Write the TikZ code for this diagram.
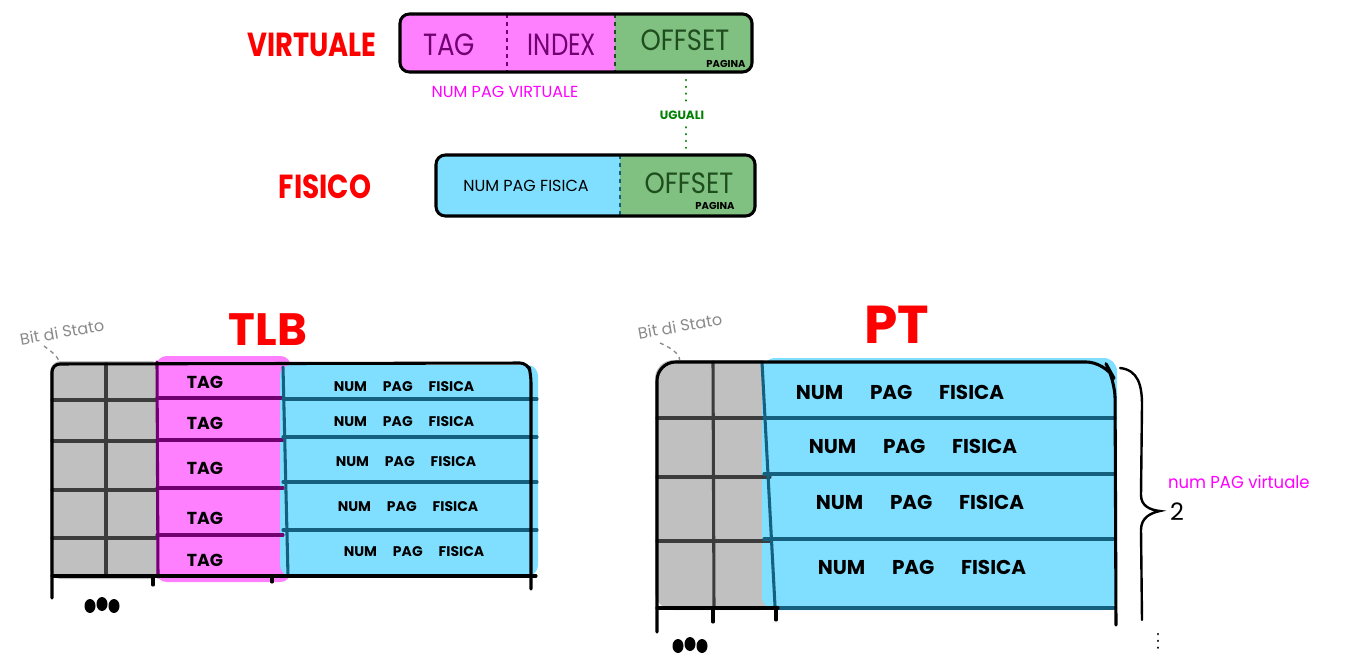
\documentclass[tikz,border=0pt]{standalone}
\usepackage{fontspec}
\setmainfont{Poppins}
\definecolor{pinkf}{HTML}{FF80FF}
\definecolor{greenf}{HTML}{80C080}
\definecolor{bluef}{HTML}{80DFFF}
\definecolor{greyf}{HTML}{C0C0C0}
\definecolor{redt}{HTML}{FF0000}
\definecolor{magt}{HTML}{FF00FF}
\definecolor{greent}{HTML}{008000}
\definecolor{purpleb}{HTML}{700070}
\definecolor{tealb}{HTML}{15607F}
\definecolor{dgreen}{HTML}{1E4D1E}
\definecolor{gridg}{HTML}{3C3C3C}
\definecolor{greytxt}{HTML}{8A8A8A}
\newcommand\fs[1]{\fontsize{#1}{#1}\selectfont}
\begin{document}
\begin{tikzpicture}[x=0.75pt,y=-0.75pt,
  txt/.style={inner sep=0pt, outer sep=0pt},
  cell/.style={inner sep=0pt, outer sep=0pt, minimum width=#1},
  bigred/.style={txt, text=redt, font=\fs{25}\bfseries},
  titlered/.style={txt, text=redt, font=\fs{34}\bfseries},
  blk/.style={line width=2.3pt, line cap=round, line join=round},
  gline/.style={line width=2.3pt, line cap=round},
  hint/.style={txt, text=greytxt, font=\fs{12}, rotate=10},
  dots/.style={line width=1.8pt, dash pattern=on 0.1pt off 5pt, line cap=round},
]
\useasboundingbox (0,0) rectangle (1360,663);

% ================= VIRTUALE =================
\node[bigred, xscale=0.82] (lvirt) at (312,45) {VIRTUALE};
\begin{scope}
  \clip[rounded corners=7pt] (400,14) rectangle (752,72);
  \fill[pinkf] (400,14) rectangle (615,72);
  \fill[greenf] (615,14) rectangle (752,72);
\end{scope}
\node[cell=80pt, minimum height=43pt] (vtag) at (453.5,43) {};
\node[cell=81pt, minimum height=43pt] (vidx) at (561,43) {};
\node[cell=102pt, minimum height=43pt] (voff) at (683.5,43) {};
\draw[purpleb, dashed, line width=1.2pt] (vtag.north east) -- (vtag.south east);
\draw[dgreen, dashed, line width=1.2pt] (vidx.north east) -- (vidx.south east);
\draw[blk, rounded corners=7pt] (400,14) rectangle (752,72);
\node[txt, text=purpleb, font=\fs{23}, xscale=0.85] (ttag) at (449,45) {TAG};
\node[txt, text=purpleb, font=\fs{23}, xscale=0.8] (tidx) at (562,45) {INDEX};
\node[txt, text=dgreen, font=\fs{22}, xscale=0.88] (toff) at (685,40) {OFFSET};
\node[txt, font=\fs{7.5}\bfseries] (tpag1) at (726,64) {PAGINA};
\node[txt, text=magt, font=\fs{12}] (nvirt) at (505,92) {NUM PAG VIRTUALE};

% ================= FISICO =================
\node[bigred, xscale=0.84] (lfis) at (325,187) {FISICO};
\begin{scope}
  \clip[rounded corners=7pt] (436,155) rectangle (755,216);
  \fill[bluef] (436,155) rectangle (620,216);
  \fill[greenf] (620,155) rectangle (755,216);
\end{scope}
\node[cell=138pt, minimum height=45pt] (pnum) at (528,185.5) {};
\node[cell=101pt, minimum height=45pt] (poff) at (687.5,185.5) {};
\draw[tealb, dashed, line width=1.2pt] (pnum.north east) -- (pnum.south east);
\draw[blk, rounded corners=7pt] (436,155) rectangle (755,216);
\node[txt, font=\fs{12}] (tnpf) at (526,186) {NUM PAG FISICA};
\node[txt, text=dgreen, font=\fs{22}, xscale=0.88] (toff2) at (689,183) {OFFSET};
\node[txt, font=\fs{7.5}\bfseries] (tpag2) at (715,206) {PAGINA};

% uguali
\node[txt, text=greent, font=\fs{9}\bfseries] (ug) at (682,115) {UGUALI};
\coordinate (d1) at (686,80);
\coordinate (d2) at (686,151);
\draw[greent, dots] (d1) -- ([yshift=4pt]d1 |- ug.north);
\draw[greent, dots] ([yshift=-6pt]d2 |- ug.south) -- (d2);

% ================= TLB =================
\node[titlered] (ttlb) at (268,330) {TLB};
\node[hint] (bit1) at (62,332) {Bit di Stato};
\coordinate (b1) at (60,364);
\draw[greytxt, dashed, line width=1pt] (44,346) .. controls (52,352) and (58,356) .. (b1);
% fills
\fill[greyf, rounded corners=8pt] (50,361) rectangle (162,579);
\fill[pinkf, rounded corners=8pt] (156,356) rectangle (291,582);
\fill[bluef, rounded corners=8pt] (280,365) rectangle (538,576);
% grey grid
\foreach \y in {400,441,490,538} \draw[gridg, gline] (52,\y) -- (156,\y);
\draw[gridg, gline] (106,364) -- (106,576);
% pink grid
\foreach \y in {398,440,488,535} \draw[purpleb, gline] (157,\y) -- (283,\y);
\draw[purpleb, gline] (157,362) -- (158,577);
% blue grid
\foreach \y in {399,437,482,530} \draw[tealb, gline] (283,\y) -- (537,\y);
\draw[tealb, gline] (283,367) -- (288,576);
% black outline
\draw[blk, rounded corners=6pt] (52,598) -- (52,364) -- (528,363) -- (531,375) -- (531,589);
\draw[blk] (52,576) -- (536,576);
\draw[blk] (153,576) -- (153,585);
\draw[blk] (272,576) -- (272,582);
% texts
\foreach \y/\n in {382/1,423/2,468/3,518/4,560/5}
  \node[txt, font=\fs{13}\bfseries] (tlbtag\n) at (205,\y) {TAG};
\foreach \y/\x/\n in {387/404/1,422/404/2,462/406/3,507/408/4,552/414/5}
  \node[txt, font=\fs{10.5}\bfseries] (tlbnum\n) at (\x,\y) {NUM\hspace{12pt}PAG\hspace{12pt}FISICA};
\fill (90,606) ellipse (5.5 and 7);
\fill (102,604) ellipse (5.5 and 7);
\fill (114,606) ellipse (5.5 and 7);

% ================= PT =================
\node[titlered, font=\fs{40}\bfseries] (tpt) at (897,325) {PT};
\node[hint] (bit2) at (680,326) {Bit di Stato};
\coordinate (b2) at (680,362);
\draw[greytxt, dashed, line width=1pt] (660,343) .. controls (676,350) and (680,356) .. (b2);
\fill[greyf, rounded corners=14pt] (655,360) rectangle (778,610);
\fill[bluef, rounded corners=10pt] (762,358) rectangle (1117,610);
\foreach \y in {418,477,541} \draw[gridg, gline] (657,\y) -- (770,\y);
\draw[gridg, gline] (713,362) -- (714,608);
\foreach \y in {418,474,539} \draw[tealb, gline] (764,\y) -- (1115,\y);
\draw[tealb, gline] (762,362) -- (775,606);
\draw[tealb, gline] (778,608) -- (1115,608);
\draw[blk, rounded corners=14pt] (657,632) -- (657,362) -- (1105,362) -- (1115,380) -- (1116,625);
\draw[blk] (657,608) -- (778,608);
\draw[blk] (713,608) -- (713,622);
\draw[blk] (776,608) -- (776,620);
\foreach \y/\x/\n in {392/900/1,446/913/2,502/920/3,567/922/4}
  \node[txt, font=\fs{15}\bfseries] (ptnum\n) at (\x,\y) {NUM\hspace{20pt}PAG\hspace{20pt}FISICA};
\fill (678,646) ellipse (5.5 and 7);
\fill (690,644) ellipse (5.5 and 7);
\fill (702,646) ellipse (5.5 and 7);
% brace
\draw[line width=1.8pt, line cap=round] (1120,368) .. controls (1138,370) and (1142,385) .. (1142,405)
  -- (1141,495) .. controls (1141,506) and (1150,510) .. (1160,511)
  .. controls (1150,513) and (1141,518) .. (1141,530) -- (1142,620);
\node[txt, font=\fs{18}] (two) at (1177,512) {2};
\node[txt, text=magt, font=\fs{13}, anchor=west, xscale=0.95] (npv) at (1168,482) {num PAG virtuale};
\coordinate (e1) at (1158,634);
\coordinate (e2) at (1158,654);
\draw[dots] (e1) -- (e2);
\end{tikzpicture}
\end{document}
